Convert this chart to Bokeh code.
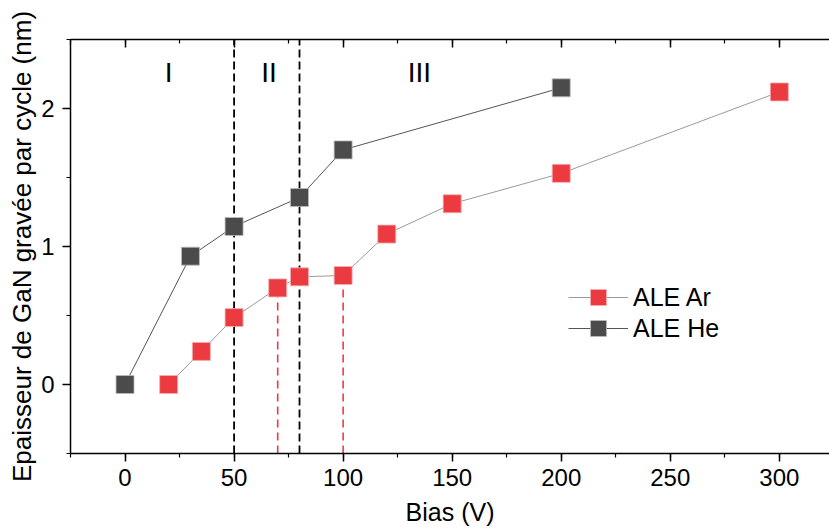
from bokeh.plotting import figure
from bokeh.models import (Range1d, LinearAxis, SingleIntervalTicker, Legend, LegendItem,
                          CustomJSTickFormatter)
from bokeh.core.properties import value
from bokeh.embed import file_html
from bokeh.resources import INLINE

# ---- data ----
ar_bias = [20, 35, 50, 70, 80, 100, 120, 150, 200, 300]
ar_etch = [0.0, 0.24, 0.485, 0.70, 0.78, 0.79, 1.09, 1.31, 1.53, 2.12]
he_bias = [0, 30, 50, 80, 100, 200]
he_etch = [0.0, 0.93, 1.145, 1.355, 1.70, 2.15]
regime_bounds = [50, 80]          # black dashed lines
ar_marks = [70, 100]              # red dashed drop lines
regime_names = ["I", "II", "III"]
regime_x = [20, 66, 135]
regime_y = [2.26, 2.26, 2.26]
x_ticks_interval = 50
y_ticks_interval = 1

FONT = "Liberation Sans"
RED = "#EC3B40"
DARK = "#4B4B4B"

Y0, Y1 = -0.5, 2.5
p = figure(width=829, height=530, output_backend="svg", toolbar_location=None,
           x_range=Range1d(-25, 323), y_range=Range1d(Y0, Y1),
           min_border_left=70, min_border_right=0, min_border_top=39, min_border_bottom=77,
           background_fill_color="white", border_fill_color="white")
p.outline_line_color = None
p.grid.visible = False

# dashed lines
p.segment(x0=regime_bounds, y0=[Y0] * len(regime_bounds), x1=regime_bounds,
          y1=[Y1] * len(regime_bounds), line_color="black", line_width=1.8, line_dash="8 4")
ar_mark_y = [ar_etch[ar_bias.index(v)] for v in ar_marks]
p.segment(x0=ar_marks, y0=[Y0] * len(ar_marks), x1=ar_marks, y1=ar_mark_y,
          line_color=RED, line_width=1.6, line_dash="8 5")

# series
ar_line = p.line(ar_bias, ar_etch, line_color="#9a9a9a", line_width=1)
he_line = p.line(he_bias, he_etch, line_color="#555555", line_width=1)
ar_sc = p.scatter(ar_bias, ar_etch, marker="square", size=18, fill_color=RED,
                  line_color="#f4b0b2", line_width=0.8)
he_sc = p.scatter(he_bias, he_etch, marker="square", size=18, fill_color=DARK,
                  line_color="#bdbdbd", line_width=0.8)

# regime labels
p.text(x=regime_x, y=regime_y, text=regime_names, text_font=value(FONT),
       text_font_size="28px", text_align="center", text_baseline="middle",
       text_color="black")

# axes
xt = SingleIntervalTicker(interval=x_ticks_interval, num_minor_ticks=2)
yt = SingleIntervalTicker(interval=y_ticks_interval, num_minor_ticks=2)
for ax in (p.xaxis[0], p.yaxis[0]):
    ax.axis_line_width = 1.5
    ax.major_tick_line_width = 1.5
    ax.minor_tick_line_width = 1.2
    ax.major_tick_out = 8
    ax.major_tick_in = 0
    ax.minor_tick_out = 4
    ax.minor_tick_in = 0
    ax.major_label_text_font = FONT
    ax.major_label_text_font_size = "24px"
    ax.major_label_text_color = "black"
    ax.axis_label_text_font = FONT
    ax.axis_label_text_font_size = "25px"
    ax.axis_label_text_font_style = "normal"
    ax.axis_label_text_color = "black"
p.xaxis[0].ticker = xt
p.yaxis[0].ticker = yt
p.xaxis[0].axis_label = "Bias (V)"
p.yaxis[0].axis_label = "Epaisseur de GaN gravée par cycle (nm)"
p.yaxis[0].axis_label_text_font_size = "26px"
p.xaxis[0].major_label_standoff = 7
p.xaxis[0].axis_label_standoff = 9
p.yaxis[0].major_label_standoff = 8
p.yaxis[0].axis_label_standoff = 1

top = LinearAxis(ticker=SingleIntervalTicker(interval=x_ticks_interval, num_minor_ticks=2),
                 formatter=CustomJSTickFormatter(code="return ''"))
top.axis_line_width = 1.5
top.major_tick_line_width = 1.5
top.minor_tick_line_width = 1.2
top.major_tick_in = 8
top.major_tick_out = 0
top.minor_tick_in = 4
top.minor_tick_out = 0
top.major_label_standoff = 0
p.add_layout(top, "above")

legend_style = dict(glyph_width=60, glyph_height=40, label_standoff=5, padding=0, margin=0,
                    border_line_color=None, background_fill_alpha=0,
                    label_text_font=FONT, label_text_font_size="25px",
                    label_text_color="black")
leg_ar = Legend(items=[LegendItem(label="ALE Ar", renderers=[ar_line, ar_sc])],
                location=(498, 136), **legend_style)
leg_he = Legend(items=[LegendItem(label="ALE He", renderers=[he_line, he_sc])],
                location=(498, 105), **legend_style)
p.add_layout(leg_ar, "center")
p.add_layout(leg_he, "center")

open("out.html", "w").write(file_html(p, INLINE))
